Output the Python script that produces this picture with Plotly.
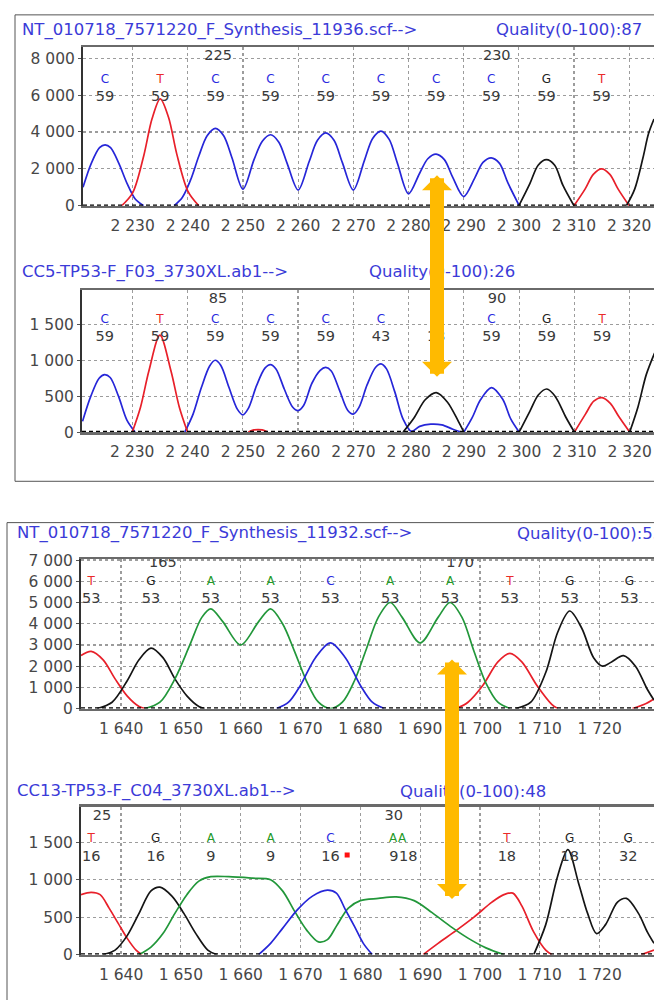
import plotly.graph_objects as go

W, H = 654, 1000

# ---------------- data ----------------
# Panel 1: NT_010718_7571220_F_Synthesis_11936.scf
p1_blue_x = [2221, 2222.5, 2224, 2225, 2226, 2227.5, 2229, 2230.5, 2232, None,
             2237.5, 2239, 2240.5, 2242, 2243.5, 2245, 2246.5, 2248, 2250,
             2252, 2253.5, 2255, 2256.5, 2258, 2260,
             2262, 2263.5, 2265, 2266.5, 2268, 2270,
             2272, 2273.5, 2275, 2276.5, 2278, 2280,
             2282, 2283.5, 2285, 2286.5, 2288, 2290,
             2292, 2293.5, 2295, 2296.5, 2298, 2300]
p1_blue_y = [1000, 2300, 3150, 3300, 3150, 2300, 1200, 350, 0, None,
             0, 450, 1400, 2700, 3800, 4200, 3800, 2600, 900,
             2500, 3500, 3850, 3450, 2300, 850,
             2400, 3550, 3950, 3550, 2350, 850,
             2450, 3650, 4050, 3600, 2300, 650,
             1750, 2550, 2800, 2500, 1550, 500,
             1500, 2350, 2600, 2300, 1250, 50]
p1_red_x = [2228, 2230, 2232, 2233.5, 2235, 2236.5, 2238, 2240, 2242, None,
            2310, 2312, 2313.5, 2315, 2316.5, 2318, 2320]
p1_red_y = [0, 700, 2700, 4700, 5800, 4800, 2800, 800, 0, None,
            0, 900, 1700, 2000, 1700, 900, 0]
p1_black_x = [2300, 2302, 2303.5, 2305, 2306.5, 2308, 2310, None,
              2319.5, 2321, 2322.5, 2323.5, 2324.5]
p1_black_y = [0, 1200, 2200, 2500, 2200, 1100, 0, None,
              0, 900, 2600, 3900, 4700]
p1_base_x = [2225, 2235, 2245, 2255, 2265, 2275, 2285, 2295, 2305, 2315, 2324.9]
p1_bases = ["C", "T", "C", "C", "C", "C", "C", "C", "G", "T", "G"]
p1_quals = ["59", "59", "59", "59", "59", "59", "59", "59", "59", "59", "59"]
p1_pos_x = [2245.5, 2296]
p1_pos = ["225", "230"]

# Panel 2: CC5-TP53-F_F03_3730XL.ab1
p2_blue_x = [2221, 2222.5, 2224, 2225, 2226, 2227.5, 2229, 2230.5, None,
             2239.5, 2241, 2242.5, 2244, 2245, 2246, 2247.5, 2249, 2250,
             2251, 2252.5, 2254, 2255, 2256, 2257.5, 2259, 2260,
             2261, 2262.5, 2264, 2265, 2266, 2267.5, 2269, 2270,
             2271, 2272.5, 2274, 2275, 2276, 2277.5, 2279, 2280.5,
             2282, 2284, 2286, 2288, 2289.5, None,
             2290, 2291.5, 2293, 2295, 2297, 2298.5, 2300]
p2_blue_y = [150, 500, 750, 800, 760, 500, 170, 0, None,
             0, 250, 620, 920, 1000, 930, 620, 320, 240,
             330, 650, 890, 940, 880, 600, 350, 300,
             370, 680, 860, 900, 850, 580, 300, 250,
             340, 660, 900, 950, 880, 560, 180, 10,
             80, 110, 100, 40, 0, None,
             0, 200, 450, 620, 460, 180, 0]
p2_red_x = [2230, 2231.5, 2233, 2235, 2237, 2238.5, 2240, None,
            2251, 2252, 2253.5, 2254.5, None,
            2310, 2312, 2313.5, 2315, 2316.5, 2318, 2320]
p2_red_y = [0, 350, 850, 1350, 850, 350, 0, None,
            0, 30, 30, 0, None,
            0, 250, 430, 480, 400, 220, 0]
p2_black_x = [2279, 2281, 2283, 2285, 2287, 2289, 2290, None,
              2300, 2302, 2303.5, 2305, 2306.5, 2308.5, 2310, None,
              2320, 2321.5, 2323, 2324.5]
p2_black_y = [0, 200, 450, 550, 420, 150, 0, None,
              0, 300, 520, 600, 500, 200, 0, None,
              0, 350, 800, 1100]
p2_base_x = [2225, 2235, 2245, 2255, 2265, 2275, 2285, 2295, 2305, 2315, 2324.9]
p2_bases = ["C", "T", "C", "C", "C", "C", "", "C", "G", "T", "G"]
p2_quals = ["59", "59", "59", "59", "59", "43", "13", "59", "59", "59", "59"]
p2_pos_x = [2245.5, 2296]
p2_pos = ["85", "90"]

# Panel 3: NT_010718_7571220_F_Synthesis_11932.scf
p3_red_x = [1633.3, 1635, 1637, 1639, 1641, 1643, 1644, None,
            1696, 1698, 1700.5, 1703, 1705, 1707, 1709.5, 1712, 1713, None,
            1725.5, 1727.5, 1729.1]
p3_red_y = [2500, 2700, 2300, 1400, 600, 100, 0, None,
            0, 300, 1100, 2200, 2600, 2200, 1100, 200, 0, None,
            0, 200, 450]
p3_black_x = [1636, 1638.5, 1641, 1643, 1645, 1647, 1649, 1651, 1653, 1654, None,
              1706, 1708.5, 1711, 1713, 1715, 1717, 1719, 1720.5, 1722, 1724,
              1726, 1728, 1729.1]
p3_black_y = [0, 300, 1300, 2300, 2850, 2400, 1400, 600, 100, 0, None,
              0, 300, 1700, 3600, 4600, 3800, 2400, 2000, 2200, 2500,
              2000, 900, 400]
p3_green_x = [1644, 1646.5, 1649, 1651.5, 1653.5, 1655, 1657, 1660, 1663, 1665,
              1667, 1669, 1671, 1673, 1675, 1677, 1679, 1681, 1683, 1685,
              1687, 1690, 1693, 1695, 1697, 1699, 1701, 1703, 1705]
p3_green_y = [0, 300, 1400, 3000, 4300, 4700, 4100, 3000, 4100, 4700,
              4000, 2700, 1300, 300, 0, 300, 1300, 2800, 4300, 5000,
              4300, 3100, 4300, 5000, 4300, 2700, 1200, 300, 0]
p3_blue_x = [1666, 1668, 1670, 1672.5, 1675, 1677.5, 1680, 1682, 1684]
p3_blue_y = [0, 300, 1100, 2400, 3100, 2400, 1100, 300, 0]
p3_base_x = [1635, 1645, 1655, 1665, 1675, 1685, 1695, 1705, 1715, 1725]
p3_bases = ["T", "G", "A", "A", "C", "A", "A", "T", "G", "G"]
p3_quals = ["53", "53", "53", "53", "53", "53", "53", "53", "53", "53"]
p3_pos_x = [1647, 1696.7]
p3_pos = ["165", "170"]

# Panel 4: CC13-TP53-F_C04_3730XL.ab1
p4_red_x = [1633.3, 1635, 1636.5, 1638, 1639.5, 1641, 1642.5, 1643.5, None,
            1690.5, 1693, 1696, 1699, 1702, 1704, 1705.5, 1707, 1709, 1711, 1712, None,
            1727, 1729.1]
p4_red_y = [800, 830, 800, 620, 420, 220, 60, 0, None,
            0, 150, 320, 500, 700, 800, 820, 650, 300, 60, 0, None,
            0, 60]
p4_black_x = [1637, 1639, 1641, 1643, 1645, 1646.5, 1648.5, 1650.5, 1652.5, 1654.5, 1656, None,
              1709, 1711, 1713, 1714.7, 1716.5, 1718, 1719.5, 1721, 1723, 1724.5,
              1726.5, 1728, 1729.1]
p4_black_y = [0, 60, 250, 550, 850, 900, 780, 550, 280, 60, 0, None,
              0, 400, 1050, 1400, 950, 550, 280, 400, 700, 750,
              550, 300, 150]
p4_green_x = [1643, 1645, 1647, 1649, 1651, 1653, 1655, 1658, 1662, 1665,
              1667, 1669, 1671, 1673, 1674.5, 1676, 1678, 1680, 1683, 1686,
              1689, 1692, 1695, 1698, 1701, 1704]
p4_green_y = [0, 100, 280, 550, 800, 980, 1040, 1040, 1020, 1000,
              850, 580, 330, 170, 200, 380, 620, 720, 750, 770,
              720, 560, 380, 220, 90, 0]
p4_blue_x = [1663, 1665, 1667, 1669.5, 1672, 1674.5, 1676, 1677.5, 1679, 1680.5, 1682]
p4_blue_y = [0, 150, 350, 600, 780, 860, 820, 600, 380, 150, 0]
p4_base_x = [1635, 1645.8, 1655, 1665, 1675, 1685.5, 1687, 1704.5, 1715, 1724.8]
p4_bases = ["T", "G", "A", "A", "C", "A", "A", "T", "G", "G"]
p4_qual_x = [1635, 1645.8, 1655, 1665, 1675, 1685.6, 1688, 1704.5, 1715, 1724.8]
p4_quals = ["16", "16", "9", "9", "16", "9", "18", "18", "18", "32"]
p4_flag_x = [1677.8]
p4_flag_y = [1330]
p4_pos_x = [1636.8, 1685.6]
p4_pos = ["25", "30"]

titles = [
    ("NT_010718_7571220_F_Synthesis_11936.scf-->", "Quality(0-100):87"),
    ("CC5-TP53-F_F03_3730XL.ab1-->", "Quality(0-100):26"),
    ("NT_010718_7571220_F_Synthesis_11932.scf-->", "Quality(0-100):53"),
    ("CC13-TP53-F_C04_3730XL.ab1-->", "Quality(0-100):48"),
]

# ---------------- style ----------------
FONT = "DejaVu Sans"
TRACE_COL = {"A": "#22973a", "C": "#2626d8", "G": "#151515", "T": "#e8202a"}
BASE_COL = {"A": "#249a2a", "C": "#2a2ae0", "G": "#222222", "T": "#ea2a2a", "": "#222222"}
TITLE_COL = "#3b3bd8"
TICK_COL = "#474747"

# panel geometry in pixels: left, top, bottom ; axis ranges ; label rows (data units)
panels = [
    dict(left=83, top=41, bottom=202, xr=[2221.0, 2324.5], yr=[0, 8590], dy=2000,
         letter_y=6830, qual_y=5870, pos_y=8100, title_y=23, q_x=494, t_x=20),
    dict(left=82, top=288, bottom=432, xr=[2220.9, 2324.4], yr=[0, 1973], dy=500,
         letter_y=1562, qual_y=1315, pos_y=1850, title_y=269, q_x=367, t_x=20),
    dict(left=81, top=561, bottom=713, xr=[1633.3, 1729.1], yr=[0, 7050], dy=1000,
         letter_y=5983, qual_y=5149, pos_y=6864, title_y=535, q_x=515, t_x=15),
    dict(left=81, top=813, bottom=963, xr=[1633.3, 1729.1], yr=[0, 1970], dy=500,
         letter_y=1537, qual_y=1300, pos_y=1839, title_y=797, q_x=398, t_x=15),
]

curves = [
    [("C", p1_blue_x, p1_blue_y), ("T", p1_red_x, p1_red_y), ("G", p1_black_x, p1_black_y)],
    [("C", p2_blue_x, p2_blue_y), ("T", p2_red_x, p2_red_y), ("G", p2_black_x, p2_black_y)],
    [("T", p3_red_x, p3_red_y), ("G", p3_black_x, p3_black_y), ("A", p3_green_x, p3_green_y),
     ("C", p3_blue_x, p3_blue_y)],
    [("T", p4_red_x, p4_red_y), ("G", p4_black_x, p4_black_y), ("A", p4_green_x, p4_green_y),
     ("C", p4_blue_x, p4_blue_y)],
]
labels = [
    (p1_base_x, p1_bases, p1_base_x, p1_quals, p1_pos_x, p1_pos),
    (p2_base_x, p2_bases, p2_base_x, p2_quals, p2_pos_x, p2_pos),
    (p3_base_x, p3_bases, p3_base_x, p3_quals, p3_pos_x, p3_pos),
    (p4_base_x, p4_bases, p4_qual_x, p4_quals, p4_pos_x, p4_pos),
]

fig = go.Figure()
layout = dict(
    width=W, height=H, margin=dict(l=0, r=0, t=0, b=0),
    paper_bgcolor="white", plot_bgcolor="white", showlegend=False,
    separators=". ", font=dict(family=FONT, color=TICK_COL),
)
shapes = []
annotations = []

for i, p in enumerate(panels):
    n = i + 1
    xa = "x" if n == 1 else f"x{n}"
    ya = "y" if n == 1 else f"y{n}"
    xkey = "xaxis" if n == 1 else f"xaxis{n}"
    ykey = "yaxis" if n == 1 else f"yaxis{n}"
    layout[xkey] = dict(
        domain=[p["left"] / W, 1.0], range=p["xr"], anchor=ya,
        tickmode="linear", tick0=0, dtick=10, tickformat=",d",
        showgrid=True, gridcolor="#9c9c9c", griddash="3px,3px", gridwidth=1.2,
        showline=True, mirror=True, linecolor="#6a6a6a", linewidth=2.5,
        ticks="", ticklabelstandoff=4, zeroline=False,
        tickfont=dict(family=FONT, size=15.5, color=TICK_COL),
    )
    layout[ykey] = dict(
        domain=[1 - p["bottom"] / H, 1 - p["top"] / H], range=p["yr"], anchor=xa,
        tickmode="linear", tick0=0, dtick=p["dy"], tickformat=",d",
        showgrid=True, gridcolor="#9c9c9c", griddash="3px,3px", gridwidth=1.2,
        showline=True, linecolor="#333333", linewidth=2,
        ticks="outside", ticklen=3, tickcolor="#555555", zeroline=False,
        tickfont=dict(family=FONT, size=15.5, color=TICK_COL),
    )
    for base, xs, ys in curves[i]:
        fig.add_trace(go.Scatter(
            x=xs, y=ys, xaxis=xa, yaxis=ya, mode="lines",
            line=dict(color=TRACE_COL[base], width=1.7, shape="spline", smoothing=0.9),
            connectgaps=False, hoverinfo="skip"))
    bx, bases, qx, quals, px_, pos = labels[i]
    fig.add_trace(go.Scatter(
        x=bx, y=[p["letter_y"]] * len(bx), xaxis=xa, yaxis=ya, mode="text",
        text=bases, textfont=dict(family=FONT, size=12, color=[BASE_COL[b] for b in bases]),
        cliponaxis=False, hoverinfo="skip"))
    fig.add_trace(go.Scatter(
        x=qx, y=[p["qual_y"]] * len(qx), xaxis=xa, yaxis=ya, mode="text",
        text=quals, textfont=dict(family=FONT, size=14.5, color="#3a3a3a"),
        cliponaxis=False, hoverinfo="skip"))
    fig.add_trace(go.Scatter(
        x=px_, y=[p["pos_y"]] * len(px_), xaxis=xa, yaxis=ya, mode="text",
        text=pos, textfont=dict(family=FONT, size=14.5, color="#3a3a3a"),
        cliponaxis=False, hoverinfo="skip"))
    # dashed black baseline over the axis line
    shapes.append(dict(type="line", xref=f"{xa} domain", yref=ya, x0=0, x1=1, y0=0, y1=0,
                       line=dict(color="#000000", width=2.5, dash="4px,3px"), layer="above"))
    # titles
    annotations.append(dict(text=titles[i][0], xref="paper", yref="paper",
                            x=p["t_x"] / W, y=1 - p["title_y"] / H, xanchor="left", yanchor="middle",
                            showarrow=False, font=dict(family=FONT, size=16.5, color=TITLE_COL)))
    annotations.append(dict(text=titles[i][1], xref="paper", yref="paper",
                            x=p["q_x"] / W, y=1 - p["title_y"] / H, xanchor="left", yanchor="middle",
                            showarrow=False, font=dict(family=FONT, size=16.5, color=TITLE_COL)))

# red flag marker in panel 4
fig.add_trace(go.Scatter(x=p4_flag_x, y=p4_flag_y, xaxis="x4", yaxis="y4", mode="markers",
                         marker=dict(symbol="square", size=5, color="#ff1010"), hoverinfo="skip"))

# panel frames
shapes.append(dict(type="rect", xref="paper", yref="paper", x0=15 / W, x1=1.02, y0=1 - 482 / H, y1=1 - 8 / H,
                   line=dict(color="#555555", width=1), layer="below"))
shapes.append(dict(type="rect", xref="paper", yref="paper", x0=7 / W, x1=1.02, y0=-0.02, y1=1 - 524 / H,
                   line=dict(color="#555555", width=1), layer="below"))

# orange double-headed arrows (head at top, tail below)
ARROW = "#FFBA00"
for (ax_px, top_px, bot_px) in [(437, 171, 374), (452, 663, 904)]:
    annotations.append(dict(
        text="", xref="paper", yref="paper", x=ax_px / W, y=1 - top_px / H,
        ax=0, ay=bot_px - top_px, showarrow=True, arrowside="end+start",
        arrowhead=1, startarrowhead=1, arrowwidth=14, arrowsize=5 / 14, startarrowsize=5 / 14,
        arrowcolor=ARROW, standoff=0, startstandoff=0))

layout["shapes"] = shapes
layout["annotations"] = annotations
fig.update_layout(**layout)
fig.write_html(
    "out.html",
    config={"displayModeBar": False, "staticPlot": True},
    post_script="document.body.style.margin='0';document.body.style.padding='0';"
                "document.body.style.overflow='hidden';",
)
